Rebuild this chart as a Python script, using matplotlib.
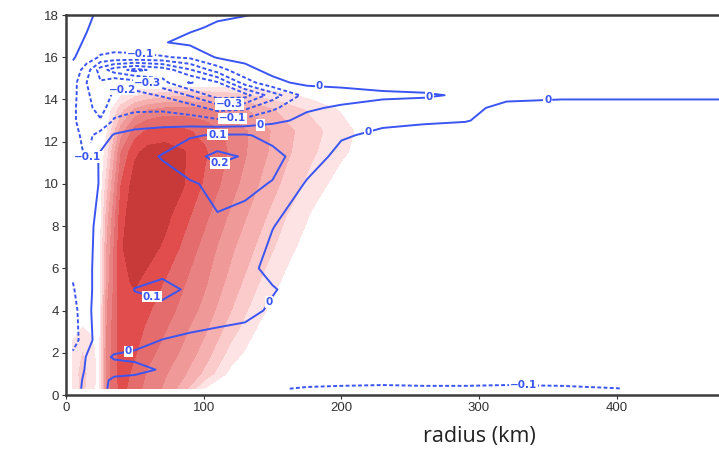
import numpy as np
import matplotlib
matplotlib.use('Agg')
import matplotlib.pyplot as plt

# shaded field (red), values
radius_red = [5, 12, 18, 24, 30, 40, 50, 60, 72, 85, 100, 120, 140, 160, 180, 200, 225, 260, 500]
height_red = [0.3, 1, 2, 3.2, 4, 5.3, 7, 8.5, 10, 11.5, 12.5, 13.5, 14.2, 14.8, 18]
red_field = [
    [1.5, 2.2, 1.5, 0.5, 5.5, 7.4, 6.4, 5.6, 4.8, 3.5, 1.0, 0, 0, 0, 0, 0, 0, 0, 0],
    [1.5, 2.3, 1.6, 0.5, 5.5, 7.5, 6.7, 5.8, 5.1, 4.2, 2.8, 0.6, 0, 0, 0, 0, 0, 0, 0],
    [1.4, 2.0, 1.5, 0.5, 5.4, 7.6, 7.1, 6.3, 5.6, 4.8, 3.6, 1.6, 0.2, 0, 0, 0, 0, 0, 0],
    [0.6, 1.0, 0.8, 0.4, 5.2, 7.7, 7.4, 6.8, 6.1, 5.3, 4.3, 2.5, 0.9, 0, 0, 0, 0, 0, 0],
    [0, 0, 0.1, 0.4, 5.0, 7.7, 7.6, 7.1, 6.4, 5.7, 4.7, 3.0, 1.3, 0.2, 0, 0, 0, 0, 0],
    [0, 0, 0, 0.3, 4.6, 7.8, 8.1, 7.6, 6.9, 6.1, 5.2, 3.6, 2.0, 0.7, 0, 0, 0, 0, 0],
    [0, 0, 0, 0.2, 4.2, 7.9, 8.6, 8.4, 7.8, 6.8, 5.7, 4.2, 2.8, 1.4, 0.3, 0, 0, 0, 0],
    [0, 0, 0, 0.1, 3.6, 7.6, 8.7, 8.7, 8.3, 7.4, 6.3, 4.8, 3.4, 2.0, 0.8, 0, 0, 0, 0],
    [0, 0, 0, 0, 2.6, 7.0, 8.5, 8.8, 8.6, 8.1, 6.9, 5.4, 4.0, 2.7, 1.5, 0.5, 0, 0, 0],
    [0, 0, 0, 0, 1.6, 6.0, 7.8, 8.4, 8.5, 8.1, 7.2, 5.8, 4.4, 3.2, 2.1, 1.2, 0.2, 0, 0],
    [0, 0, 0, 0, 1.0, 4.5, 6.5, 7.2, 7.4, 7.2, 6.7, 5.7, 4.5, 3.3, 2.3, 1.4, 0.3, 0, 0],
    [0, 0, 0, 0, 0.4, 2.6, 4.2, 5.0, 5.4, 5.5, 5.3, 4.6, 3.6, 2.6, 1.7, 0.9, 0, 0, 0],
    [0, 0, 0, 0, 0, 0.9, 1.7, 2.2, 2.6, 2.8, 2.8, 2.4, 1.8, 1.2, 0.6, 0.1, 0, 0, 0],
    [0] * 19,
    [0] * 19,
]
red_levels = [1, 2, 3, 4, 5, 6, 7, 8, 10]
red_colors = ['#fde3e3', '#fbcaca', '#f6b0b0', '#f09999', '#e98383', '#e56c6c', '#e14d4d', '#c83939']

# line field (blue)
radius_w = [5, 15, 25, 35, 50, 70, 90, 110, 130, 150, 175, 200, 230, 260, 290, 320, 360, 400, 440, 500]
height_w = [0.3, 0.7, 1.2, 1.8, 2.6, 4, 5, 6, 8, 10, 11.3, 12.3, 13, 13.6, 14.2, 14.8, 15.4, 16, 16.7, 17.4, 18]
w_field = [
    [-0.03, 0.02, 0.02, -0.02, -0.04, -0.05, -0.06, -0.07, -0.08, -0.09, -0.11, -0.12, -0.13, -0.12, -0.12, -0.13, -0.12, -0.103, -0.07, -0.06],
    [-0.04, 0.02, 0.03, -0.02, -0.03, -0.04, -0.05, -0.05, -0.05, -0.05, -0.06, -0.06, -0.06, -0.06, -0.06, -0.06, -0.06, -0.05, -0.04, -0.04],
    [-0.05, 0.01, 0.04, 0.04, 0.03, -0.01, -0.03, -0.04, -0.04, -0.04, -0.04, -0.04, -0.04, -0.04, -0.04, -0.04, -0.04, -0.04, -0.04, -0.04],
    [-0.07, 0.005, 0.03, -0.01, -0.02, -0.02, -0.02, -0.03, -0.03, -0.04, -0.04, -0.04, -0.04, -0.04, -0.04, -0.04, -0.04, -0.04, -0.04, -0.04],
    [-0.15, -0.03, 0.04, 0.05, 0.03, -0.002, -0.02, -0.03, -0.03, -0.04, -0.04, -0.04, -0.04, -0.04, -0.04, -0.04, -0.04, -0.04, -0.04, -0.04],
    [-0.14, -0.02, 0.04, 0.06, 0.08, 0.08, 0.06, 0.04, 0.02, -0.01, -0.03, -0.04, -0.04, -0.04, -0.04, -0.04, -0.04, -0.04, -0.04, -0.04],
    [-0.11, -0.02, 0.03, 0.06, 0.102, 0.12, 0.09, 0.05, 0.03, 0.005, -0.03, -0.04, -0.04, -0.04, -0.04, -0.04, -0.04, -0.04, -0.04, -0.04],
    [-0.08, -0.02, 0.03, 0.05, 0.07, 0.08, 0.07, 0.05, 0.02, -0.02, -0.04, -0.04, -0.04, -0.04, -0.04, -0.04, -0.04, -0.04, -0.04, -0.04],
    [-0.07, -0.02, 0.02, 0.04, 0.05, 0.06, 0.07, 0.09, 0.07, 0.002, -0.03, -0.04, -0.04, -0.04, -0.04, -0.04, -0.04, -0.04, -0.04, -0.04],
    [-0.05, -0.06, 0.01, 0.03, 0.05, 0.07, 0.09, 0.12, 0.12, 0.095, -0.01, -0.04, -0.04, -0.04, -0.04, -0.04, -0.04, -0.04, -0.04, -0.04],
    [-0.06, -0.11, 0.02, 0.04, 0.07, 0.105, 0.16, 0.23, 0.19, 0.13, 0.05, -0.03, -0.04, -0.04, -0.04, -0.04, -0.04, -0.04, -0.04, -0.04],
    [-0.07, -0.13, -0.06, 0.01, 0.04, 0.06, 0.09, 0.11, 0.11, 0.07, 0.04, 0.01, -0.02, -0.03, -0.03, -0.03, -0.03, -0.03, -0.03, -0.03],
    [-0.08, -0.17, -0.19, -0.09, -0.06, -0.05, -0.06, -0.08, -0.07, -0.02, 0.02, 0.03, 0.02, 0.01, 0.003, -0.02, -0.03, -0.03, -0.03, -0.03],
    [-0.08, -0.17, -0.24, -0.14, -0.12, -0.12, -0.15, -0.24, -0.22, -0.12, -0.01, 0.01, 0.02, 0.02, 0.01, -0.01, -0.02, -0.02, -0.02, -0.02],
    [-0.07, -0.18, -0.27, -0.18, -0.17, -0.21, -0.31, -0.45, -0.44, -0.25, -0.06, -0.03, -0.01, -0.005, 0.005, 0.01, 0.01, 0.01, 0.01, 0.01],
    [-0.06, -0.2, -0.29, -0.22, -0.25, -0.37, -0.51, -0.41, -0.15, -0.02, 0.02, 0.02, 0.02, 0.02, 0.02, 0.02, 0.02, 0.02, 0.02, 0.02],
    [-0.03, -0.15, -0.35, -0.45, -0.53, -0.46, -0.31, -0.15, -0.02, 0.02, 0.02, 0.02, 0.02, 0.02, 0.02, 0.02, 0.02, 0.02, 0.02, 0.02],
    [0.01, -0.05, -0.11, -0.12, -0.12, -0.11, -0.08, 0.01, 0.02, 0.02, 0.02, 0.02, 0.02, 0.02, 0.02, 0.02, 0.02, 0.02, 0.02, 0.02],
    [0.02, -0.01, -0.05, -0.06, -0.05, -0.005, 0.02, 0.03, 0.03, 0.03, 0.03, 0.03, 0.03, 0.03, 0.03, 0.03, 0.03, 0.03, 0.03, 0.03],
    [0.02, 0.005, -0.03, -0.04, -0.04, -0.03, -0.01, 0.01, 0.02, 0.02, 0.02, 0.02, 0.02, 0.02, 0.02, 0.02, 0.02, 0.02, 0.02, 0.02],
    [0.03, 0.01, -0.01, -0.03, -0.03, -0.03, -0.02, -0.01, -0.002, 0.01, 0.02, 0.02, 0.02, 0.02, 0.02, 0.02, 0.02, 0.02, 0.02, 0.02],
]
w_levels = [-0.5, -0.4, -0.3, -0.2, -0.1, 0, 0.1, 0.2]

# where the inline labels sit (radius km, height km)
label_spots = [(184, 14.5), (264, 14.0), (350, 14.1), (219, 12.7), (141, 12.8),
               (121, 13.05), (119, 13.75), (110, 12.4), (112, 10.9), (141, 4.8),
               (61, 4.3), (45, 2.3), (332, 0.45), (15, 11.3), (54, 16.25),
               (60, 14.9), (41, 14.6)]

blue = '#3a55f2'

fig = plt.figure(figsize=(7.19, 4.5), dpi=100)
ax = fig.add_axes([66 / 719, 55 / 450, 826 / 719, 380 / 450])

ax.contourf(radius_red, height_red, np.array(red_field), levels=red_levels, colors=red_colors)

styles = ['-' if v >= 0 else (0, (2.0, 1.2)) for v in w_levels]
cs = ax.contour(radius_w, height_w, np.array(w_field), levels=w_levels,
                colors=blue, linewidths=1.4, linestyles=styles)
labels = ax.clabel(cs, fmt=lambda v: f'{v:g}'.replace('-', '\u2212'), fontsize=7.5,
                   inline=True, inline_spacing=2, manual=label_spots)
for t in labels:
    t.set_fontweight('bold')
    t.set_color(blue)
    t.set_rotation(0)
    t.set_bbox(dict(facecolor='white', edgecolor='none', pad=0.6))

ax.set_xlim(0, 600)
ax.set_ylim(0, 18)
ax.set_xticks([0, 100, 200, 300, 400])
ax.set_yticks(range(0, 19, 2))
ax.tick_params(labelsize=9.5, length=3, width=0.8, colors='#333333', pad=2)
for t in ax.get_xticklabels() + ax.get_yticklabels():
    t.set_family('Liberation Sans')
for s in ax.spines.values():
    s.set_linewidth(1.8)
    s.set_color('#3c3c3c')
ax.set_xlabel('radius (km)', fontsize=15.5, family='Open Sans', color='#222222', labelpad=9)

fig.savefig('out.png', dpi=100)
